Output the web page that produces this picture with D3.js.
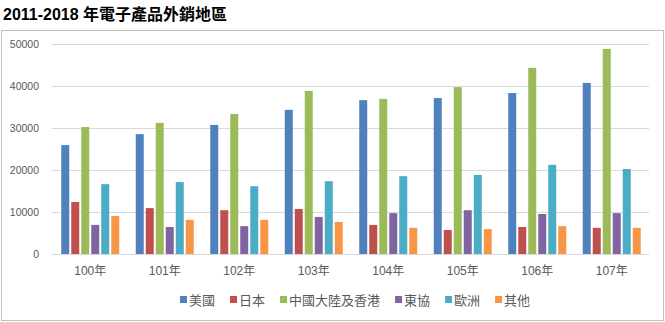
<!DOCTYPE html>
<html><head><meta charset="utf-8">
<script src="https://cdn.jsdelivr.net/npm/d3@7"></script>
<style>
html,body{margin:0;padding:0;background:#fff;}
svg{display:block;}
</style></head>
<body>
<script>
const title = "2011-2018 年電子產品外銷地區";
const categories = ["100年","101年","102年","103年","104年","105年","106年","107年"];
const seriesNames = ["美國","日本","中國大陸及香港","東協","歐洲","其他"];
const seriesColors = ["#4F81BD","#C0504D","#9BBB59","#8064A2","#4BACC6","#F79646"];
const usa    = [26000,28600,30800,34400,36700,37200,38400,40800];
const japan  = [12450,11000,10500,10800,7000,5800,6500,6300];
const china  = [30300,31300,33400,38900,37000,39800,44400,48900];
const asean  = [7000,6500,6700,8900,9800,10500,9600,9800];
const europe = [16700,17200,16200,17400,18600,18900,21300,20300];
const other  = [9100,8200,8200,7700,6300,6000,6700,6300];
const yTicks = [0,10000,20000,30000,40000,50000];
const seriesValues = [usa,japan,china,asean,europe,other];

const W = 665, H = 322;
const svg = d3.select("body").append("svg").attr("width",W).attr("height",H);
const cjk = "'Liberation Sans','Noto Sans CJK TC',sans-serif";

svg.append("text").attr("x",3).attr("y",20)
  .attr("font-family","'Liberation Sans','Noto Sans CJK TC',sans-serif")
  .attr("font-weight","bold").attr("font-size",16).attr("fill","#000")
  .text(title);

// chart border
svg.append("rect").attr("x",1.5).attr("y",30.5).attr("width",662).attr("height",290)
  .attr("fill","none").attr("stroke","#bfbfbf").attr("stroke-width",1);

const x0 = d3.scaleBand().domain(categories).range([53,649]).paddingInner(0).paddingOuter(0);
const inner = d3.scaleBand().domain(seriesNames).range([0,58]).paddingInner(0.2).paddingOuter(0);
const y = d3.scaleLinear().domain([0,50000]).range([254.3,44.3]);

// gridlines
svg.append("g").selectAll("line").data(yTicks).join("line")
  .attr("x1",52).attr("x2",649)
  .attr("y1",d=>Math.round(y(d))+0.5).attr("y2",d=>Math.round(y(d))+0.5)
  .attr("stroke","#d9d9d9").attr("stroke-width",1);

// y axis labels
const yAxis = d3.axisLeft(y).tickValues(yTicks).tickSize(0).tickPadding(0).tickFormat(d3.format("d"));
const ya = svg.append("g").attr("transform","translate(39,0)").call(yAxis);
ya.select(".domain").remove();
ya.selectAll("text").attr("font-family","'Liberation Sans',sans-serif").attr("font-size",10.5).attr("fill","#595959");

// bars
const groups = svg.append("g").selectAll("g").data(categories).join("g")
  .attr("transform",d=>`translate(${x0(d)+x0.bandwidth()/2-29},0)`);
groups.selectAll("rect").data((c,i)=>seriesNames.map((s,j)=>({s,j,v:seriesValues[j][i]})))
  .join("rect")
  .attr("x",d=>inner(d.s)).attr("width",inner.bandwidth())
  .attr("y",d=>y(d.v)).attr("height",d=>y(0)-y(d.v))
  .attr("fill",d=>seriesColors[d.j]);

// x axis
const xAxis = d3.axisBottom(x0).tickSize(0).tickPadding(0);
const xa = svg.append("g").attr("transform","translate(0,254)").call(xAxis);
xa.select(".domain").attr("stroke","#d9d9d9").attr("d","M52,0.5H649");
xa.selectAll("text").attr("font-family",cjk).attr("font-size",12).attr("fill","#595959")
  .attr("dy",null).attr("y",21);

// legend
const leg = svg.append("g");
let lx = 180;
seriesNames.forEach((s,i)=>{
  leg.append("rect").attr("x",lx).attr("y",296).attr("width",7).attr("height",7).attr("fill",seriesColors[i]);
  const t = leg.append("text").attr("x",lx+9).attr("y",304.5)
    .attr("font-family","'Noto Sans CJK TC',sans-serif").attr("font-size",13).attr("fill","#595959").text(s);
  lx += 9 + t.node().getComputedTextLength() + 15;
});
</script>
</body></html>
